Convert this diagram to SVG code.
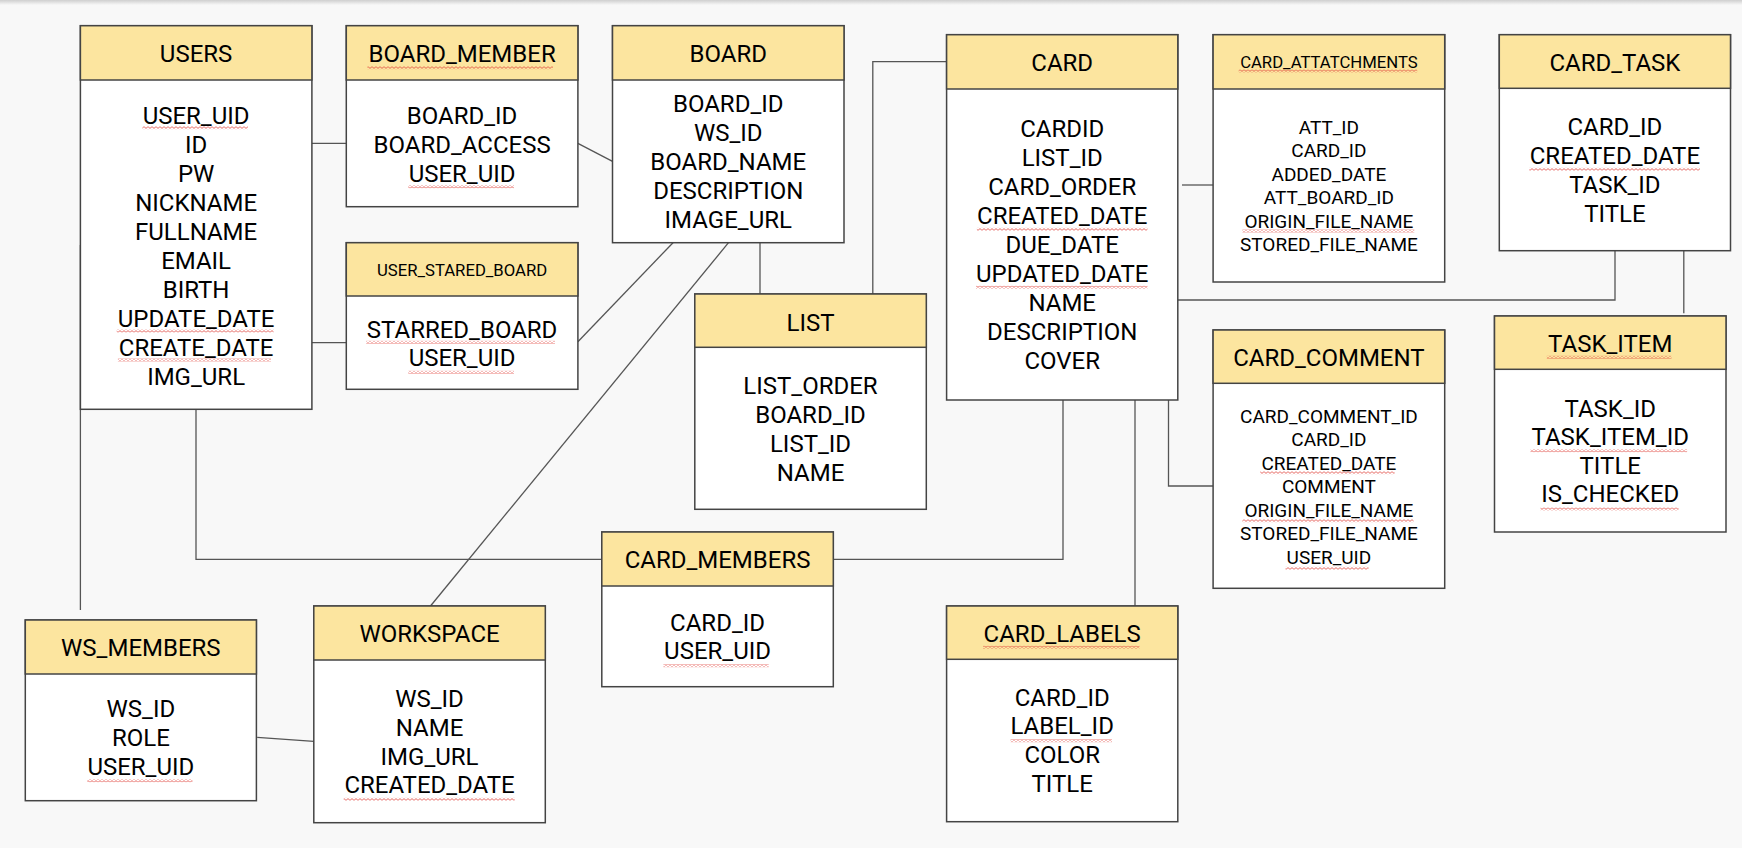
<svg xmlns="http://www.w3.org/2000/svg" width="1742" height="848" viewBox="0 0 1742 848">
<style>
.bg{fill:#f8f8f8}
.hd{fill:#fce59f;stroke:#444;stroke-width:1.5}
.bd{fill:#fff;stroke:#444;stroke-width:1.5}
.t{font-family:Roboto,"Liberation Sans",sans-serif;font-size:24px;text-anchor:middle;fill:#000}
.s{font-size:19px}
.h{font-size:16.7px}
.c path{fill:none;stroke:#555;stroke-width:1.3}
.sq{fill:url(#sq)}
</style>
<defs>
<linearGradient id="top" x1="0" y1="0" x2="0" y2="1"><stop offset="0" stop-color="#cfcfcf"/><stop offset="1" stop-color="#f8f8f8"/></linearGradient>
<pattern id="sq" x="0" y="0" width="4" height="3" patternUnits="userSpaceOnUse"><path d="M0 0.6 L2 2.4 L4 0.6" fill="none" stroke="#e0413a" stroke-width="0.8"/></pattern>
</defs>
<rect class="bg" x="0" y="0" width="1742" height="848"/>
<rect x="0" y="0" width="1742" height="5" fill="url(#top)"/>

<g id="connectors" class="c">
<path d="M311.9 143.3 H346.3"/>
<path d="M311.9 342.7 H346.3"/>
<path d="M577.9 143.3 L612.5 161.3"/>
<path d="M577.9 341.7 L673 242.7"/>
<path d="M728.5 242.7 L430.5 606"/>
<path d="M760 242.7 V294"/>
<path d="M872.8 296 V61.7 H946.6"/>
<path d="M1182 185 H1213.1"/>
<path d="M1177.8 300 H1615 V250.7"/>
<path d="M1683.8 247.7 V313.3"/>
<path d="M1125 399 H1168.5 V486 H1213.1"/>
<path d="M1135 400 V606"/>
<path d="M1063 400 V559.3 H833.3"/>
<path d="M196 409.3 V559.3 H601.8"/>
<path d="M80.4 245 V610"/>
<path d="M257.2 737.3 L313.8 741.3"/>
</g>

<g id="users">
<rect class="bd" x="80.4" y="25.7" width="231.5" height="383.6"/>
<rect class="hd" x="80.4" y="25.7" width="231.5" height="54.3"/>
<text class="t" x="196.1" y="62.3">USERS</text>
<text class="t" x="196.1" y="123.5">USER_UID</text>
<text class="t" x="196.1" y="152.5">ID</text>
<text class="t" x="196.1" y="181.6">PW</text>
<text class="t" x="196.1" y="210.6">NICKNAME</text>
<text class="t" x="196.1" y="239.7">FULLNAME</text>
<text class="t" x="196.1" y="268.7">EMAIL</text>
<text class="t" x="196.1" y="297.8">BIRTH</text>
<text class="t" x="196.1" y="326.8">UPDATE_DATE</text>
<text class="t" x="196.1" y="355.9">CREATE_DATE</text>
<text class="t" x="196.1" y="384.9">IMG_URL</text>
</g>

<g id="board_member">
<rect class="bd" x="346.3" y="25.7" width="231.6" height="181"/>
<rect class="hd" x="346.3" y="25.7" width="231.6" height="54.3"/>
<text class="t" x="462.1" y="62.3">BOARD_MEMBER</text>
<text class="t" x="462.1" y="123.5">BOARD_ID</text>
<text class="t" x="462.1" y="152.5">BOARD_ACCESS</text>
<text class="t" x="462.1" y="181.5">USER_UID</text>
</g>

<g id="user_stared_board">
<rect class="bd" x="346.3" y="242.7" width="231.6" height="146.6"/>
<rect class="hd" x="346.3" y="242.7" width="231.6" height="53.3"/>
<text class="t h" x="462.1" y="275.9">USER_STARED_BOARD</text>
<text class="t" x="462.1" y="337.5">STARRED_BOARD</text>
<text class="t" x="462.1" y="366.2">USER_UID</text>
</g>

<g id="board">
<rect class="bd" x="612.5" y="25.7" width="231.5" height="217"/>
<rect class="hd" x="612.5" y="25.7" width="231.5" height="54.3"/>
<text class="t" x="728.25" y="62.3">BOARD</text>
<text class="t" x="728.25" y="111.8">BOARD_ID</text>
<text class="t" x="728.25" y="140.8">WS_ID</text>
<text class="t" x="728.25" y="169.8">BOARD_NAME</text>
<text class="t" x="728.25" y="198.8">DESCRIPTION</text>
<text class="t" x="728.25" y="228">IMAGE_URL</text>
</g>

<g id="list">
<rect class="bd" x="694.8" y="294" width="231.5" height="215.3"/>
<rect class="hd" x="694.8" y="294" width="231.5" height="53.3"/>
<text class="t" x="810.5" y="330.8">LIST</text>
<text class="t" x="810.5" y="393.5">LIST_ORDER</text>
<text class="t" x="810.5" y="422.5">BOARD_ID</text>
<text class="t" x="810.5" y="451.5">LIST_ID</text>
<text class="t" x="810.5" y="480.5">NAME</text>
</g>

<g id="card">
<rect class="bd" x="946.6" y="34.7" width="231.2" height="365.3"/>
<rect class="hd" x="946.6" y="34.7" width="231.2" height="54.3"/>
<text class="t" x="1062.2" y="70.8">CARD</text>
<text class="t" x="1062.2" y="136.8">CARDID</text>
<text class="t" x="1062.2" y="165.9">LIST_ID</text>
<text class="t" x="1062.2" y="194.9">CARD_ORDER</text>
<text class="t" x="1062.2" y="224">CREATED_DATE</text>
<text class="t" x="1062.2" y="253">DUE_DATE</text>
<text class="t" x="1062.2" y="282">UPDATED_DATE</text>
<text class="t" x="1062.2" y="311.1">NAME</text>
<text class="t" x="1062.2" y="340.1">DESCRIPTION</text>
<text class="t" x="1062.2" y="369.2">COVER</text>
</g>

<g id="card_attatchments">
<rect class="bd" x="1213.1" y="34.7" width="231.6" height="247.3"/>
<rect class="hd" x="1213.1" y="34.7" width="231.6" height="54.3"/>
<text class="t h" x="1328.9" y="68.2">CARD_ATTATCHMENTS</text>
<text class="t s" x="1328.9" y="133.5">ATT_ID</text>
<text class="t s" x="1328.9" y="157">CARD_ID</text>
<text class="t s" x="1328.9" y="180.5">ADDED_DATE</text>
<text class="t s" x="1328.9" y="204">ATT_BOARD_ID</text>
<text class="t s" x="1328.9" y="227.5">ORIGIN_FILE_NAME</text>
<text class="t s" x="1328.9" y="251">STORED_FILE_NAME</text>
</g>

<g id="card_task">
<rect class="bd" x="1499.3" y="34.7" width="231.2" height="216"/>
<rect class="hd" x="1499.3" y="34.7" width="231.2" height="53.6"/>
<text class="t" x="1614.9" y="70.8">CARD_TASK</text>
<text class="t" x="1614.9" y="135.2">CARD_ID</text>
<text class="t" x="1614.9" y="164.2">CREATED_DATE</text>
<text class="t" x="1614.9" y="193">TASK_ID</text>
<text class="t" x="1614.9" y="222">TITLE</text>
</g>

<g id="task_item">
<rect class="bd" x="1494.5" y="316" width="231.5" height="216"/>
<rect class="hd" x="1494.5" y="316" width="231.5" height="53.3"/>
<text class="t" x="1610.25" y="352.3">TASK_ITEM</text>
<text class="t" x="1610.25" y="416.5">TASK_ID</text>
<text class="t" x="1610.25" y="445">TASK_ITEM_ID</text>
<text class="t" x="1610.25" y="473.5">TITLE</text>
<text class="t" x="1610.25" y="502.3">IS_CHECKED</text>
</g>

<g id="card_comment">
<rect class="bd" x="1213.1" y="330" width="231.6" height="258.3"/>
<rect class="hd" x="1213.1" y="330" width="231.6" height="53.3"/>
<text class="t" x="1328.9" y="366">CARD_COMMENT</text>
<text class="t s" x="1328.9" y="422.7">CARD_COMMENT_ID</text>
<text class="t s" x="1328.9" y="446.2">CARD_ID</text>
<text class="t s" x="1328.9" y="469.8">CREATED_DATE</text>
<text class="t s" x="1328.9" y="493.3">COMMENT</text>
<text class="t s" x="1328.9" y="516.9">ORIGIN_FILE_NAME</text>
<text class="t s" x="1328.9" y="540.4">STORED_FILE_NAME</text>
<text class="t s" x="1328.9" y="564">USER_UID</text>
</g>

<g id="ws_members">
<rect class="bd" x="25.3" y="620" width="231.1" height="180.7"/>
<rect class="hd" x="25.3" y="620" width="231.1" height="54"/>
<text class="t" x="140.85" y="656">WS_MEMBERS</text>
<text class="t" x="140.85" y="716.7">WS_ID</text>
<text class="t" x="140.85" y="745.6">ROLE</text>
<text class="t" x="140.85" y="774.5">USER_UID</text>
</g>

<g id="workspace">
<rect class="bd" x="313.8" y="606" width="231.5" height="216.7"/>
<rect class="hd" x="313.8" y="606" width="231.5" height="54"/>
<text class="t" x="429.55" y="641.7">WORKSPACE</text>
<text class="t" x="429.55" y="706.7">WS_ID</text>
<text class="t" x="429.55" y="735.7">NAME</text>
<text class="t" x="429.55" y="764.5">IMG_URL</text>
<text class="t" x="429.55" y="793.3">CREATED_DATE</text>
</g>

<g id="card_members">
<rect class="bd" x="601.8" y="532" width="231.5" height="154.7"/>
<rect class="hd" x="601.8" y="532" width="231.5" height="54"/>
<text class="t" x="717.55" y="567.7">CARD_MEMBERS</text>
<text class="t" x="717.55" y="630.7">CARD_ID</text>
<text class="t" x="717.55" y="659.3">USER_UID</text>
</g>

<g id="card_labels">
<rect class="bd" x="946.6" y="606" width="231.2" height="215.7"/>
<rect class="hd" x="946.6" y="606" width="231.2" height="53.3"/>
<text class="t" x="1062.2" y="641.7">CARD_LABELS</text>
<text class="t" x="1062.2" y="706">CARD_ID</text>
<text class="t" x="1062.2" y="734.3">LABEL_ID</text>
<text class="t" x="1062.2" y="763.3">COLOR</text>
<text class="t" x="1062.2" y="792.3">TITLE</text>
</g>

<g id="spellcheck">
<rect class="sq" x="367.4" y="66.2" width="185.6" height="3"/>
<rect class="sq" x="142.4" y="126.2" width="105.6" height="3"/>
<rect class="sq" x="408.3" y="185.2" width="105.7" height="3"/>
<rect class="sq" x="116.7" y="329.5" width="156.9" height="3"/>
<rect class="sq" x="117.9" y="358.5" width="153.1" height="3"/>
<rect class="sq" x="366.2" y="340.8" width="188.8" height="3"/>
<rect class="sq" x="408.3" y="370.8" width="105.7" height="3"/>
<rect class="sq" x="976.9" y="227.8" width="170.6" height="3"/>
<rect class="sq" x="976" y="285.8" width="171.5" height="3"/>
<rect class="sq" x="1238.7" y="69.5" width="178.5" height="3"/>
<rect class="sq" x="1529.3" y="167.8" width="170.7" height="3"/>
<rect class="sq" x="1242.4" y="229.5" width="171.9" height="3"/>
<rect class="sq" x="1546.8" y="355.8" width="124.7" height="3"/>
<rect class="sq" x="87.3" y="779.2" width="105.2" height="3"/>
<rect class="sq" x="343.7" y="797.8" width="171" height="3"/>
<rect class="sq" x="663.4" y="664.2" width="105.3" height="3"/>
<rect class="sq" x="983" y="645.8" width="156.5" height="3"/>
<rect class="sq" x="1010.5" y="739.2" width="101.5" height="3"/>
<rect class="sq" x="1260.2" y="471.2" width="134.4" height="3"/>
<rect class="sq" x="1242.4" y="519.2" width="171.1" height="3"/>
<rect class="sq" x="1285.5" y="566.8" width="83.1" height="3"/>
<rect class="sq" x="1530.5" y="449.2" width="156.6" height="3"/>
<rect class="sq" x="1540.5" y="507.5" width="138.1" height="3"/>
</g>
</svg>
